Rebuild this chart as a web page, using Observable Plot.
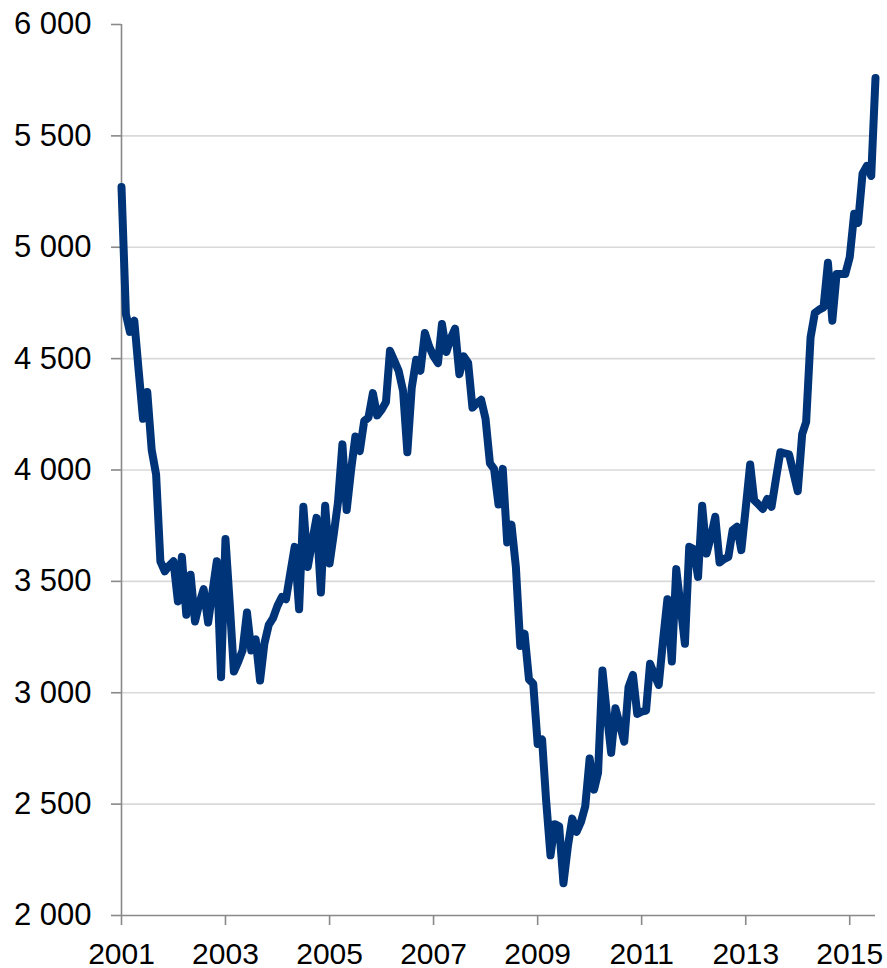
<!DOCTYPE html>
<html>
<head>
<meta charset="utf-8">
<script src="https://cdn.jsdelivr.net/npm/d3@7"></script>
<script src="https://cdn.jsdelivr.net/npm/@observablehq/plot@0.6"></script>
<style>
  html, body { margin: 0; padding: 0; background: #ffffff; }
  #chart { width: 887px; height: 968px; }
</style>
</head>
<body>
<div id="chart"></div>
<script>
// Monthly series, January 2001 onwards (one value per month)
const startYear = 2001;
const startMonth = 0; // January
const values = [
  5270, 4700, 4620, 4670, 4450, 4230, 4350, 4090, 3980, 3590, 3545, 3570,
  3590, 3410, 3610, 3350, 3530, 3320, 3400, 3465, 3315, 3450, 3590, 3070,
  3690, 3390, 3095, 3140, 3190, 3360, 3190, 3240, 3055, 3220, 3305, 3335,
  3390, 3430, 3420, 3540, 3655, 3375, 3835, 3565, 3680, 3785, 3450, 3840,
  3580, 3720, 3855, 4115, 3820, 4000, 4150, 4085, 4220, 4235, 4345, 4245,
  4270, 4305, 4535, 4490, 4445, 4355, 4080, 4370, 4495, 4445, 4615, 4555,
  4510, 4480, 4655, 4530, 4590, 4635, 4430, 4510, 4480, 4280, 4300, 4315,
  4230, 4030, 4005, 3845, 4005, 3675, 3755, 3565, 3210, 3265, 3060, 3040,
  2770, 2790, 2520, 2270, 2410, 2400, 2145, 2310, 2435, 2375, 2420, 2490,
  2705, 2565, 2640, 3100, 2910, 2730, 2930, 2855, 2780, 3025, 3080, 2905,
  2915, 2920, 3130, 3080, 3035, 3240, 3420, 3140, 3555, 3390, 3220, 3655,
  3645, 3520, 3840, 3625, 3700, 3790, 3585, 3600, 3610, 3730, 3745, 3640,
  3830, 4025, 3865, 3845, 3825, 3870, 3835, 3960, 4080, 4075, 4070, 3990,
  3905, 4160, 4215, 4595, 4705, 4720, 4730, 4930, 4670, 4880, 4880, 4880,
  4955, 5150, 5110, 5330, 5365, 5320, 5760
];
const yTicks = [2000, 2500, 3000, 3500, 4000, 4500, 5000, 5500, 6000];
const gridValues = [2500, 3000, 3500, 4000, 4500, 5000, 5500];
const xTickYears = [2001, 2003, 2005, 2007, 2009, 2011, 2013, 2015];
const xDomainEnd = [2015, 6]; // July 2015

const start = new Date(Date.UTC(startYear, startMonth, 1));
const data = values.map((v, i) => ({ date: d3.utcMonth.offset(start, i), value: v }));
const xTicks = xTickYears.map(y => new Date(Date.UTC(y, 0, 1)));
const fmt = d => d3.format(",")(d).replace(/,/g, " ");

const axisGray = "#898989";

const chart = Plot.plot({
  width: 887,
  height: 968,
  marginLeft: 121,
  marginRight: 12,
  marginTop: 24,
  marginBottom: 53,
  style: { fontFamily: "'Liberation Sans', Arial, sans-serif", background: "#ffffff", color: "#000000" },
  x: { type: "utc", domain: [start, new Date(Date.UTC(xDomainEnd[0], xDomainEnd[1], 1))], label: null },
  y: { domain: [2000, 6000], label: null },
  marks: [
    Plot.gridY(gridValues, { stroke: "#d9d9d9", strokeOpacity: 1, strokeWidth: 1.6 }),
    Plot.ruleY([2000], { stroke: axisGray, strokeWidth: 1.6 }),
    Plot.ruleX([start], { y1: 2000, y2: 6000, stroke: axisGray, strokeWidth: 1.6 }),
    Plot.axisY(yTicks, {
      tickSize: 10, tickPadding: 20, tickFormat: fmt, fontSize: 31,
      stroke: axisGray, strokeWidth: 1.6, fill: "#000000", label: null
    }),
    Plot.axisX(xTicks, {
      tickSize: 10, tickPadding: 17, tickFormat: d3.utcFormat("%Y"), fontSize: 30,
      stroke: axisGray, strokeWidth: 1.6, fill: "#000000", label: null
    }),
    Plot.line(data, {
      x: "date", y: "value", stroke: "#003478", strokeWidth: 8,
      strokeLinejoin: "round", strokeLinecap: "round"
    })
  ]
});

document.getElementById("chart").appendChild(chart);
</script>
</body>
</html>
